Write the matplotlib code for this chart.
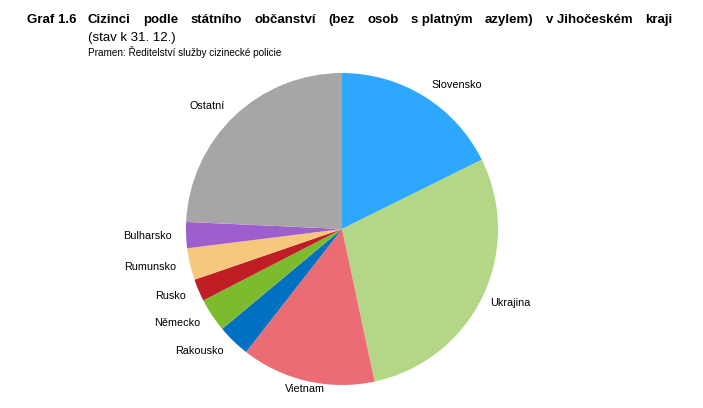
import matplotlib
matplotlib.use('Agg')
import matplotlib.pyplot as plt

plt.rcParams['font.family'] = ['Liberation Sans', 'DejaVu Sans']

# data (shares in %)
countries = ['Slovensko', 'Ukrajina', 'Vietnam', 'Rakousko', 'Německo',
             'Rusko', 'Rumunsko', 'Bulharsko', 'Ostatní']
shares = [17.7, 29.0, 13.9, 3.4, 3.5, 2.3, 3.3, 2.7, 24.3]
colors = ['#2ea8ff', '#b3d786', '#eb6c75', '#0070c0', '#7cba2e',
          '#be1e24', '#f8c77e', '#9e5fce', '#a6a6a6']

title_words = ['Cizinci', 'podle', 'státního', 'občanství', '(bez', 'osob',
               's platným', 'azylem)', 'v Jihočeském', 'kraji']

W, H = 703, 408
fig = plt.figure(figsize=(W / 100, H / 100), dpi=100)

# pie axes: centre (342, 229), radius 156 px
cx, cy, r = 342, 229, 156
ax = fig.add_axes([(cx - r) / W, (H - cy - r) / H, 2 * r / W, 2 * r / H])
wedges, texts = ax.pie(shares, colors=colors, labels=countries, startangle=90,
                       counterclock=False, labeldistance=1.09,
                       wedgeprops=dict(linewidth=0),
                       textprops=dict(fontsize=7.8, color='black'))
# Excel pulls these two labels a bit closer to the pie
px, py = texts[1].get_position()
texts[1].set_position((px * 0.965, py))
px, py = texts[2].get_position()
texts[2].set_position((px * 0.965, py * 0.965))
texts[2].set_ha('center')
ax.set_xlim(-1, 1); ax.set_ylim(-1, 1)

# title, justified between x=88 and x=672 like the source
fig.text(27 / W, 1 - 20 / H, 'Graf 1.6', fontsize=9.5, fontweight='bold', va='center')
renderer = fig.canvas.get_renderer()
word_objs = [fig.text(0, 1 - 20 / H, w, fontsize=9.5, fontweight='bold', va='center')
             for w in title_words]
widths = [t.get_window_extent(renderer).width for t in word_objs]
x0, x1 = 88, 672
gap = (x1 - x0 - sum(widths)) / (len(title_words) - 1)
x = x0
for t, w in zip(word_objs, widths):
    t.set_x(x / W)
    x += w + gap

fig.text(88 / W, 1 - 38 / H, '(stav k 31. 12.)', fontsize=9.5, va='center')
fig.text(88 / W, 1 - 52 / H, 'Pramen: Ředitelství služby cizinecké policie',
         fontsize=7.2, va='center')

fig.savefig('out.png', dpi=100)
